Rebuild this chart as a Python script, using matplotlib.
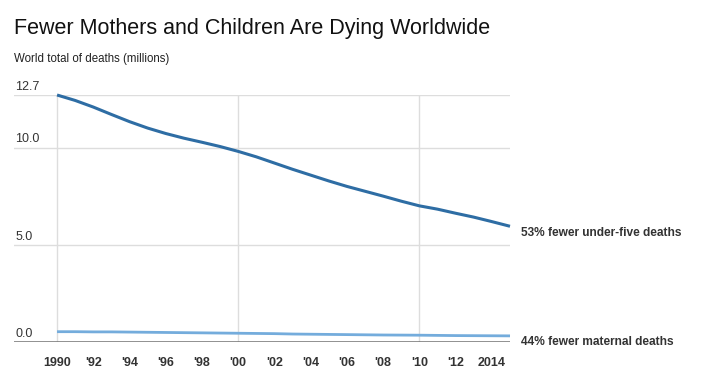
import matplotlib
matplotlib.use("Agg")
import matplotlib.pyplot as plt

years = list(range(1990, 2016))
under_five = [12.7, 12.42, 12.08, 11.7, 11.33, 11.0, 10.72, 10.48, 10.27, 10.05,
              9.8, 9.52, 9.2, 8.88, 8.58, 8.28, 8.0, 7.75, 7.5, 7.24,
              7.0, 6.83, 6.62, 6.42, 6.19, 5.95]
maternal = [0.53, 0.53, 0.52, 0.52, 0.51, 0.50, 0.49, 0.48, 0.47, 0.46,
            0.45, 0.44, 0.43, 0.41, 0.40, 0.39, 0.38, 0.37, 0.36, 0.355,
            0.35, 0.34, 0.33, 0.325, 0.32, 0.315]
xticks = list(range(1990, 2015, 2))
xticklabels = ["1990", "'92", "'94", "'96", "'98", "'00", "'02", "'04", "'06",
               "'08", "'10", "'12", "2014"]
yticks = [0.0, 5.0, 10.0, 12.7]
ytick_labels = ["0.0", "5.0", "10.0", "12.7"]
vgrid_years = [1990, 2000, 2010]
title = "Fewer Mothers and Children Are Dying Worldwide"
subtitle = "World total of deaths (millions)"
label_u5 = "53% fewer under-five deaths"
label_mat = "44% fewer maternal deaths"

plt.rcParams['font.family'] = ['Liberation Sans', 'DejaVu Sans']

fig = plt.figure(figsize=(7.22, 3.85), dpi=100)
ax = fig.add_axes([14/722, 1 - 342/385, (510 - 14)/722, (342 - 95)/385])

ax.set_xlim(1990 - 43/18.1, 2015)
ax.set_ylim(0, 12.7)

for s in ax.spines.values():
    s.set_visible(False)

for y in yticks[1:]:
    ax.axhline(y, color='#dddddd', lw=1.0, zorder=1)
for xv in vgrid_years:
    ax.axvline(xv, color='#dddddd', lw=1.0, zorder=1)
ax.axhline(0, color='#707070', lw=1.8, zorder=2)

ax.plot(years, under_five, color='#2e6da4', lw=2.2, zorder=3, clip_on=False,
        solid_capstyle='butt', solid_joinstyle='round')
ax.plot(years, maternal, color='#74acdc', lw=2.0, zorder=3, clip_on=False,
        solid_capstyle='butt', solid_joinstyle='round')

ax.set_yticks([])
ax.set_xticks(xticks)
ax.set_xticklabels(xticklabels, fontsize=9, fontweight='bold', color='#333333')
ax.tick_params(axis='x', length=0, pad=11)

for y, lab in zip(yticks, ytick_labels):
    ax.annotate(lab, xy=(0, y), xycoords=('axes fraction', 'data'),
                xytext=(1, 1.5), textcoords='offset points',
                ha='left', va='bottom', fontsize=9, color='#333333')

ax.annotate(label_u5, xy=(years[-1], under_five[-1]), xycoords='data',
            xytext=(8, -5), textcoords='offset points', ha='left', va='center',
            fontsize=8.6, fontweight='bold', color='#333333', annotation_clip=False)
ax.annotate(label_mat, xy=(years[-1], 0), xycoords='data',
            xytext=(8, 0), textcoords='offset points', ha='left', va='center',
            fontsize=8.6, fontweight='bold', color='#333333', annotation_clip=False)

fig.text(14/722, 1 - 34/385, title, fontsize=15.5, color='#111111',
         ha='left', va='baseline')
fig.text(14/722, 1 - 62/385, subtitle, fontsize=8.3, color='#222222',
         ha='left', va='baseline')

fig.savefig("out.png", dpi=100)
